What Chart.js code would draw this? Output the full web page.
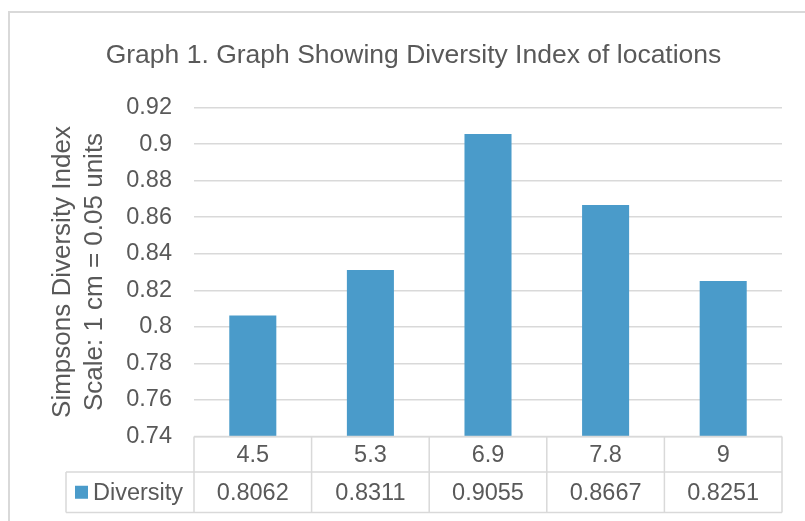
<!DOCTYPE html>
<html>
<head>
<meta charset="utf-8">
<script src="https://cdn.jsdelivr.net/npm/chart.js@4/dist/chart.umd.min.js"></script>
<style>
  html, body { margin: 0; padding: 0; background: #ffffff; overflow: hidden; }
  #wrap { position: relative; width: 805px; height: 521px; }
  #frame {
    position: absolute; left: 8px; top: 11px; width: 900px; height: 600px;
    border-left: 2px solid #d9d9d9; border-top: 2px solid #d9d9d9;
    pointer-events: none;
  }
  canvas { position: absolute; left: 0; top: 0; }
</style>
</head>
<body>
<div id="wrap">
  <div id="frame"></div>
  <canvas id="chart" width="805" height="521"></canvas>
</div>
<script>
// Locations (x categories) and their Simpson's diversity index
const locations = ['4.5', '5.3', '6.9', '7.8', '9'];
const diversity = [0.8062, 0.8311, 0.9055, 0.8667, 0.8251];
const valueLabels = ['0.8062', '0.8311', '0.9055', '0.8667', '0.8251'];
const seriesName = 'Diversity';
const yMin = 0.74, yMax = 0.92, yStep = 0.02;

const FONT = "'Liberation Sans', Arial, Helvetica, sans-serif";
const TEXT = '#595959';
const LINE = '#d9d9d9';
const BAR = '#4a9bca';

// Data table underneath the plot: category row + series row with legend key
const dataTable = {
  id: 'dataTable',
  afterDraw(chart) {
    const ctx = chart.ctx;
    const area = chart.chartArea;
    const n = locations.length;
    const catW = (area.right - area.left) / n;
    const top = area.bottom;
    const mid = top + 35.5;
    const bottom = mid + 40.5;
    const rowLeft = 66;

    ctx.save();
    ctx.strokeStyle = LINE;
    ctx.lineWidth = 1.5;
    ctx.beginPath();
    ctx.moveTo(area.left, top); ctx.lineTo(area.right, top);
    ctx.moveTo(rowLeft, mid); ctx.lineTo(area.right, mid);
    ctx.moveTo(rowLeft, bottom); ctx.lineTo(area.right, bottom);
    ctx.moveTo(rowLeft, mid); ctx.lineTo(rowLeft, bottom);
    for (let i = 0; i <= n; i++) {
      const x = area.left + catW * i;
      ctx.moveTo(x, top); ctx.lineTo(x, bottom);
    }
    ctx.stroke();

    ctx.fillStyle = TEXT;
    ctx.font = '23.5px ' + FONT;
    ctx.textAlign = 'center';
    ctx.textBaseline = 'middle';
    for (let i = 0; i < n; i++) {
      const cx = area.left + catW * (i + 0.5);
      ctx.fillText(locations[i], cx, (top + mid) / 2 + 1);
      ctx.fillText(valueLabels[i], cx, (mid + bottom) / 2 + 1);
    }

    // legend key for the series row
    ctx.fillStyle = BAR;
    ctx.fillRect(75, (mid + bottom) / 2 - 6.5, 13, 13);
    ctx.fillStyle = TEXT;
    ctx.textAlign = 'left';
    ctx.fillText(seriesName, 93, (mid + bottom) / 2 + 1);
    ctx.restore();
  }
};

new Chart(document.getElementById('chart'), {
  type: 'bar',
  data: {
    labels: locations,
    datasets: [{
      label: seriesName,
      data: diversity,
      backgroundColor: BAR,
      borderWidth: 0,
      barPercentage: 0.4,
      categoryPercentage: 1.0
    }]
  },
  options: {
    responsive: false,
    animation: false,
    devicePixelRatio: 1,
    layout: { padding: { left: 45, right: 23, top: 0, bottom: 84.5 } },
    plugins: {
      legend: { display: false },
      tooltip: { enabled: false },
      title: {
        display: true,
        text: 'Graph 1. Graph Showing Diversity Index of locations',
        color: TEXT,
        font: { family: FONT, size: 26.5, weight: 'normal', lineHeight: 1.2 },
        padding: { top: 39.5, bottom: 36.2 }
      }
    },
    scales: {
      x: {
        display: false,
        offset: true
      },
      y: {
        min: yMin,
        max: yMax,
        afterFit(scale) { scale.width = 149; },
        ticks: {
          stepSize: yStep,
          padding: 22,
          color: TEXT,
          font: { family: FONT, size: 23.5 },
          callback: v => String(parseFloat(Number(v).toFixed(2)))
        },
        grid: { color: LINE, lineWidth: 1.5, drawTicks: false },
        border: { display: false },
        title: {
          display: true,
          text: ['Simpsons Diversity Index', 'Scale: 1 cm = 0.05 units'],
          color: TEXT,
          font: { family: FONT, size: 26, lineHeight: 1.23 },
          padding: { top: 2, bottom: 0 }
        }
      }
    }
  },
  plugins: [dataTable]
});
</script>
</body>
</html>
